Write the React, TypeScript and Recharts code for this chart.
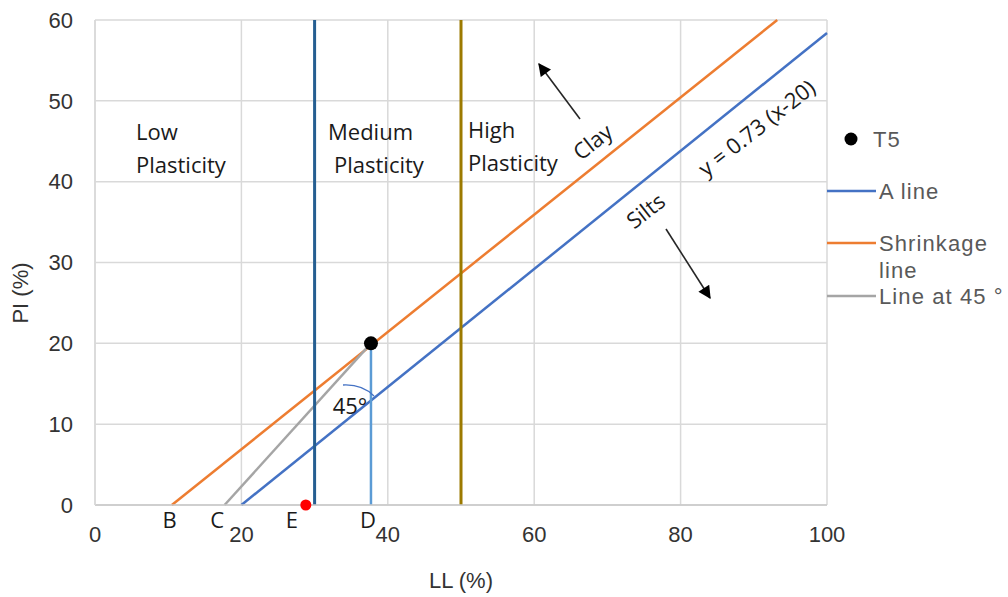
import React from "react"
import {
  ComposedChart,
  Line,
  Scatter,
  XAxis,
  YAxis,
  CartesianGrid,
  ReferenceLine,
  Label,
} from "recharts"

// plasticity chart values
const xTicks = [0, 20, 40, 60, 80, 100]
const yTicks = [0, 10, 20, 30, 40, 50, 60]

const aLine = [
  { x: 20, y: 0 },
  { x: 100, y: 58.4 },
]
const shrinkageLine = [
  { x: 10.5, y: 0 },
  { x: 93.2, y: 60 },
]
const line45 = [
  { x: 17.7, y: 0 },
  { x: 37.7, y: 20 },
]
const dLine = [
  { x: 37.7, y: 0 },
  { x: 37.7, y: 20 },
]
const t5Point = [{ x: 37.7, y: 20 }]
const ePoint = [{ x: 28.8, y: 0 }]

const mediumBoundary = 30
const highBoundary = 50

const pointLabels = ["B", "C", "E", "D"]
const pointLabelX = [10.2, 16.7, 26.9, 37.3]

const legendNames = ["T5", "A line", "Shrinkage line", "Line at 45 °"]

const W = 1008
const H = 597
const PLOT = { left: 95, top: 20, right: 827, bottom: 505 }
const px = (v: number) => PLOT.left + (v / 100) * (PLOT.right - PLOT.left)

const annoFont = "'Open Sans', sans-serif"
const axisFont = "'Liberation Sans', Arial, sans-serif"

const Dot = (color: string, r: number) => (props: any) =>
  <circle cx={props.cx} cy={props.cy} r={r} fill={color} />

// legend drawn by hand, sits right of the plot
const LegendBox = () => (
  <g transform="translate(826,120)" fontFamily={axisFont} fontSize={22} fill="#595959" letterSpacing={1.1}>
    <circle cx={25} cy={19} r={6.5} fill="#000" />
    <text x={47} y={19} dominantBaseline="central">{legendNames[0]}</text>
    <line x1={1} x2={50} y1={71} y2={71} stroke="#4472C4" strokeWidth={2.5} />
    <text x={53} y={71} dominantBaseline="central">{legendNames[1]}</text>
    <line x1={1} x2={50} y1={123} y2={123} stroke="#ED7D31" strokeWidth={2.5} />
    <text x={53} y={123} dominantBaseline="central">{legendNames[2].split(" ")[0]}</text>
    <text x={53} y={150} dominantBaseline="central">{legendNames[2].split(" ")[1]}</text>
    <line x1={1} x2={50} y1={176} y2={176} stroke="#A5A5A5" strokeWidth={2.5} />
    <text x={53} y={176} dominantBaseline="central">{legendNames[3]}</text>
  </g>
)

export default function App() {
  return (
    <div style={{ position: "absolute", left: 0, top: 0, width: W, height: H, background: "#fff" }}>
      <ComposedChart
        width={W}
        height={H}
        margin={{ top: PLOT.top, right: W - PLOT.right, left: 0, bottom: 0 }}
      >
        <CartesianGrid stroke="#d9d9d9" strokeWidth={1.5} />
        <XAxis
          type="number"
          dataKey="x"
          domain={[0, 100]}
          ticks={xTicks}
          height={H - PLOT.bottom}
          tickLine={false}
          tickSize={0}
          tickMargin={21}
          axisLine={{ stroke: "#c8c8c8", strokeWidth: 1.5 }}
          tick={{ fill: "#333", fontSize: 22, fontFamily: axisFont }}
        >
          <Label
            value="LL (%)"
            position="insideBottom"
            offset={9}
            style={{ fill: "#333", fontSize: 22, fontFamily: axisFont }}
          />
        </XAxis>
        <YAxis
          type="number"
          dataKey="y"
          domain={[0, 60]}
          ticks={yTicks}
          width={PLOT.left}
          tickLine={false}
          tickSize={0}
          tickMargin={22}
          axisLine={{ stroke: "#d9d9d9", strokeWidth: 1.5 }}
          tick={{ fill: "#333", fontSize: 22, fontFamily: axisFont }}
        >
          <Label
            content={() => (
              <text
                transform="translate(20,293) rotate(-90)"
                textAnchor="middle"
                dominantBaseline="central"
                fill="#333"
                fontSize={22}
                fontFamily={axisFont}
              >
                PI (%)
              </text>
            )}
          />
        </YAxis>

        <Line data={aLine} dataKey="y" stroke="#4472C4" strokeWidth={2.5} dot={false} isAnimationActive={false} legendType="none" />
        <Line data={shrinkageLine} dataKey="y" stroke="#ED7D31" strokeWidth={2.5} dot={false} isAnimationActive={false} legendType="none" />
        <Line data={line45} dataKey="y" stroke="#A5A5A5" strokeWidth={2.5} dot={false} isAnimationActive={false} legendType="none" />
        <Line data={dLine} dataKey="y" stroke="#5B9BD5" strokeWidth={2.5} dot={false} isAnimationActive={false} legendType="none" />
        <ReferenceLine x={mediumBoundary} stroke="#255E91" strokeWidth={3} />
        <ReferenceLine x={highBoundary} stroke="#9C7A00" strokeWidth={3} />
        <Scatter data={t5Point} dataKey="y" shape={Dot("#000", 7)} isAnimationActive={false} legendType="none" />
        <Scatter data={ePoint} dataKey="y" shape={Dot("#FF0000", 5.5)} isAnimationActive={false} legendType="none" />
      </ComposedChart>

      <svg
        width={W}
        height={H}
        style={{ position: "absolute", left: 0, top: 0, pointerEvents: "none" }}
      >
        <defs>
          <marker id="arrow" viewBox="0 0 10 10" refX="9" refY="5" markerWidth="9" markerHeight="8" orient="auto">
            <path d="M0,0 L10,5 L0,10 z" fill="#000" />
          </marker>
        </defs>
        <LegendBox />
        <g fontFamily={annoFont} fontSize={22} fill="#1a1a1a">
          <text x={136} y={140}>Low</text>
          <text x={136} y={173}>Plasticity</text>
          <text x={328} y={140}>Medium</text>
          <text x={334} y={173}>Plasticity</text>
          <text x={468} y={138}>High</text>
          <text x={468} y={171}>Plasticity</text>

          <text x={592} y={141} textAnchor="middle" dominantBaseline="central" transform="rotate(-38 592 141)">Clay</text>
          <text x={645} y={210} textAnchor="middle" dominantBaseline="central" transform="rotate(-38 645 210)">Silts</text>
          <text x={756} y={127} textAnchor="middle" dominantBaseline="central" transform="rotate(-38 756 127)">y = 0.73 (x-20)</text>
          <text x={350} y={414} textAnchor="middle">45°</text>

          {pointLabels.map((t, i) => (
            <text key={t} x={px(pointLabelX[i])} y={528} textAnchor="middle">{t}</text>
          ))}
        </g>
        <line x1={580} y1={119} x2={539} y2={64} stroke="#262626" strokeWidth={1.6} markerEnd="url(#arrow)" />
        <line x1={666} y1={229} x2={710} y2={298} stroke="#262626" strokeWidth={1.6} markerEnd="url(#arrow)" />
        <path d="M343,385 Q362,384 374,396" fill="none" stroke="#4472C4" strokeWidth={1.3} />
      </svg>
    </div>
  )
}
